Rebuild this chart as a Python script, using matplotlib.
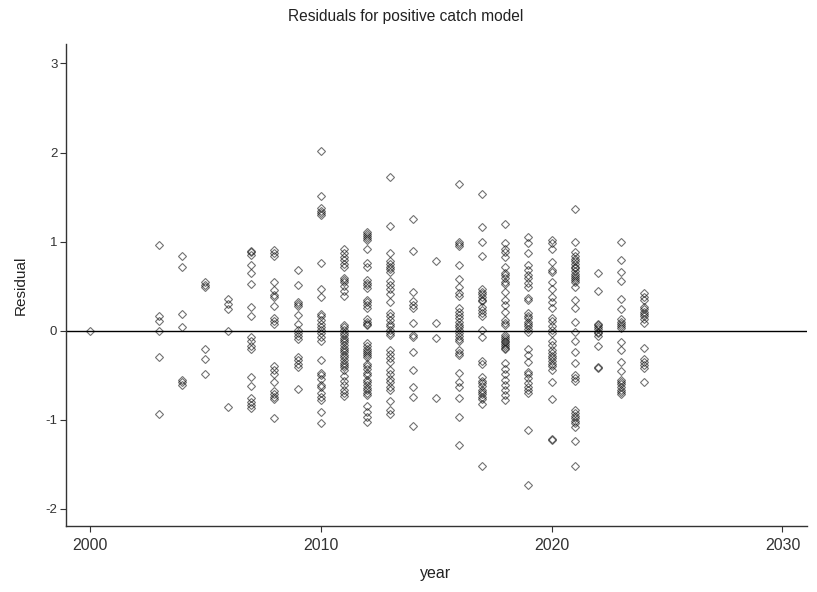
import matplotlib
matplotlib.use("Agg")
import matplotlib.pyplot as plt

plt.rcParams['font.family'] = ['Liberation Sans', 'DejaVu Sans']
plt.rcParams['axes.unicode_minus'] = False

title = "Residuals for positive catch model"
x_label = "year"
y_label = "Residual"
x_ticks = [2000, 2010, 2020, 2030]
y_ticks = [-2, -1, 0, 1, 2, 3]

r2000 = [0.0]
r2003 = [0.96, 0.17, 0.11, 0.0, -0.29, -0.93]
r2004 = [0.84, 0.72, 0.19, 0.04, -0.55, -0.58, -0.61]
r2005 = [0.55, 0.51, 0.49, -0.21, -0.32, -0.48]
r2006 = [0.36, 0.30, 0.24, 0.0, -0.86]
r2007 = [0.90, 0.88, 0.85, 0.74, 0.645, 0.53, 0.27, 0.16, -0.07, -0.12, -0.17, -0.20,
         -0.52, -0.62, -0.76, -0.80, -0.83, -0.87]
r2008 = [0.91, 0.87, 0.84, 0.55, 0.46, 0.40, 0.38, 0.28, 0.14, 0.11, 0.08, -0.40, -0.44,
         -0.48, -0.58, -0.68, -0.71, -0.74, -0.77, -0.98]
r2009 = [0.68, 0.51, 0.32, 0.30, 0.28, 0.18, 0.08, 0.01, -0.03, -0.06, -0.09, -0.29,
         -0.33, -0.37, -0.41, -0.65]
r2010 = [2.02, 1.51, 1.38, 1.34, 1.32, 1.30, 0.76, 0.47, 0.38, 0.19, 0.16, 0.12, 0.08,
         0.04, 0.01, -0.03, -0.07, -0.12, -0.33, -0.47, -0.50, -0.54, -0.61, -0.63, -0.70,
         -0.74, -0.78, -0.91, -1.03]
r2011 = [0.92, 0.87, 0.83, 0.79, 0.75, 0.71, 0.59, 0.57, 0.55, 0.50, 0.45, 0.39, 0.06,
         0.04, 0.01, -0.02, -0.05, -0.08, -0.10, -0.13, -0.16, -0.19, -0.22, -0.24, -0.27,
         -0.30, -0.33, -0.36, -0.38, -0.41, -0.44, -0.51, -0.56, -0.61, -0.67, -0.70, -0.73]
r2012 = [1.11, 1.09, 1.06, 1.04, 1.02, 0.92, 0.76, 0.72, 0.57, 0.54, 0.51, 0.48, 0.35,
         0.32, 0.29, 0.26, 0.13, 0.10, 0.08, 0.06, -0.14, -0.17, -0.20, -0.23, -0.25,
         -0.27, -0.30, -0.37, -0.40, -0.43, -0.47, -0.50, -0.55, -0.58, -0.61, -0.64,
         -0.67, -0.70, -0.72, -0.85, -0.91, -0.97, -1.02]
r2013 = [1.72, 1.18, 0.87, 0.78, 0.75, 0.72, 0.69, 0.66, 0.56, 0.51, 0.47, 0.41, 0.32,
         0.20, 0.16, 0.12, 0.08, 0.05, 0.01, -0.02, -0.05, -0.22, -0.26, -0.31, -0.35,
         -0.44, -0.49, -0.54, -0.58, -0.63, -0.67, -0.79, -0.89, -0.93]
r2014 = [1.25, 0.90, 0.44, 0.33, 0.29, 0.25, 0.09, -0.05, -0.07, -0.24, -0.44, -0.63,
         -0.74, -1.07]
r2015 = [0.78, 0.09, -0.08, -0.76]
r2016 = [1.65, 1.00, 0.97, 0.95, 0.74, 0.58, 0.49, 0.42, 0.39, 0.25, 0.21, 0.18, 0.14,
         0.10, 0.07, 0.04, 0.01, -0.03, -0.06, -0.09, -0.11, -0.22, -0.25, -0.27, -0.47,
         -0.57, -0.63, -0.75, -0.97, -1.28]
r2017 = [1.54, 1.16, 1.00, 0.84, 0.47, 0.44, 0.41, 0.38, 0.35, 0.33, 0.27, 0.23, 0.20,
         0.17, 0.01, -0.07, -0.34, -0.37, -0.52, -0.56, -0.59, -0.62, -0.66, -0.69, -0.71,
         -0.74, -0.77, -0.82, -1.52]
r2018 = [1.20, 0.98, 0.92, 0.88, 0.83, 0.72, 0.65, 0.62, 0.59, 0.55, 0.53, 0.44, 0.34,
         0.29, 0.21, 0.12, 0.09, 0.06, -0.05, -0.07, -0.09, -0.11, -0.13, -0.15, -0.17,
         -0.19, -0.20, -0.36, -0.43, -0.49, -0.55, -0.61, -0.67, -0.72, -0.78]
r2019 = [1.05, 0.98, 0.87, 0.74, 0.68, 0.62, 0.59, 0.54, 0.49, 0.37, 0.34, 0.20, 0.17,
         0.14, 0.10, 0.08, 0.05, 0.02, -0.01, -0.21, -0.27, -0.35, -0.46, -0.49, -0.53,
         -0.59, -0.63, -0.66, -0.70, -1.11, -1.73]
r2020 = [1.02, 0.99, 0.92, 0.77, 0.68, 0.66, 0.55, 0.47, 0.38, 0.32, 0.25, 0.14, 0.11,
         0.05, 0.01, -0.03, -0.11, -0.16, -0.22, -0.25, -0.28, -0.31, -0.34, -0.37, -0.40,
         -0.44, -0.57, -0.77, -1.21, -1.23]
r2021 = [1.37, 1.00, 0.88, 0.84, 0.80, 0.78, 0.75, 0.72, 0.70, 0.67, 0.64, 0.61, 0.59,
         0.57, 0.55, 0.49, 0.35, 0.25, 0.10, -0.01, -0.12, -0.24, -0.36, -0.50, -0.53,
         -0.56, -0.89, -0.92, -0.96, -0.98, -1.01, -1.04, -1.08, -1.24, -1.52]
r2022 = [0.65, 0.45, 0.08, 0.07, 0.04, 0.02, -0.01, -0.03, -0.06, -0.17, -0.41, -0.42]
r2023 = [1.00, 0.79, 0.66, 0.56, 0.36, 0.24, 0.13, 0.10, 0.08, 0.05, 0.03, -0.13, -0.22,
         -0.35, -0.45, -0.55, -0.57, -0.60, -0.63, -0.66, -0.69, -0.71]
r2024 = [0.42, 0.38, 0.34, 0.27, 0.24, 0.21, 0.19, 0.16, 0.13, 0.09, -0.19, -0.32, -0.35,
         -0.39, -0.42, -0.58]

years = [2000, 2003, 2004, 2005, 2006, 2007, 2008, 2009, 2010, 2011, 2012, 2013, 2014,
         2015, 2016, 2017, 2018, 2019, 2020, 2021, 2022, 2023, 2024]
residuals = [r2000, r2003, r2004, r2005, r2006, r2007, r2008, r2009, r2010, r2011, r2012,
             r2013, r2014, r2015, r2016, r2017, r2018, r2019, r2020, r2021, r2022, r2023,
             r2024]

fig = plt.figure(figsize=(8.17, 5.92), dpi=100)
W, H = 817, 592
ax = fig.add_axes([65.7 / W, 1 - 525.7 / H, (806.7 - 65.7) / W, (525.7 - 44) / H])

xs, ys = [], []
for yr, vals in zip(years, residuals):
    xs.extend([yr] * len(vals))
    ys.extend(vals)

ax.plot(xs, ys, linestyle='none', marker='D', markersize=3.7,
        markerfacecolor='none', markeredgecolor=(0, 0, 0, 0.55), markeredgewidth=0.8)
ax.axhline(0, color='black', linewidth=1.0, zorder=1)

ax.set_xlim(1998.96, 2031.05)
ax.set_ylim(-2.188, 3.218)
ax.set_xticks(x_ticks)
ax.set_yticks(y_ticks)
ax.set_xticklabels([str(t) for t in x_ticks])
ax.set_yticklabels([str(t) for t in y_ticks])

for s in ['top', 'right']:
    ax.spines[s].set_visible(False)
for s in ['left', 'bottom']:
    ax.spines[s].set_color('#333333')
    ax.spines[s].set_linewidth(1.0)

ax.tick_params(axis='x', direction='out', length=4.5, width=0.8, color='#333333',
               labelsize=11.5, labelcolor='#333333', pad=4)
ax.tick_params(axis='y', direction='out', length=4.5, width=0.8, color='#333333',
               labelsize=9.5, labelcolor='#333333', pad=1.5)

fig.text(405.5 / W, 1 - 21 / H, title, ha='center', va='baseline', fontsize=11.2,
         color='#222222')
fig.text(436 / W, 1 - 577.6 / H, x_label, ha='center', va='baseline', fontsize=11.5,
         color='#222222')
fig.text(21 / W, 1 - 285 / H, y_label, ha='center', va='center', rotation=90,
         fontsize=11, color='#222222')

fig.savefig("out.png", dpi=100)
